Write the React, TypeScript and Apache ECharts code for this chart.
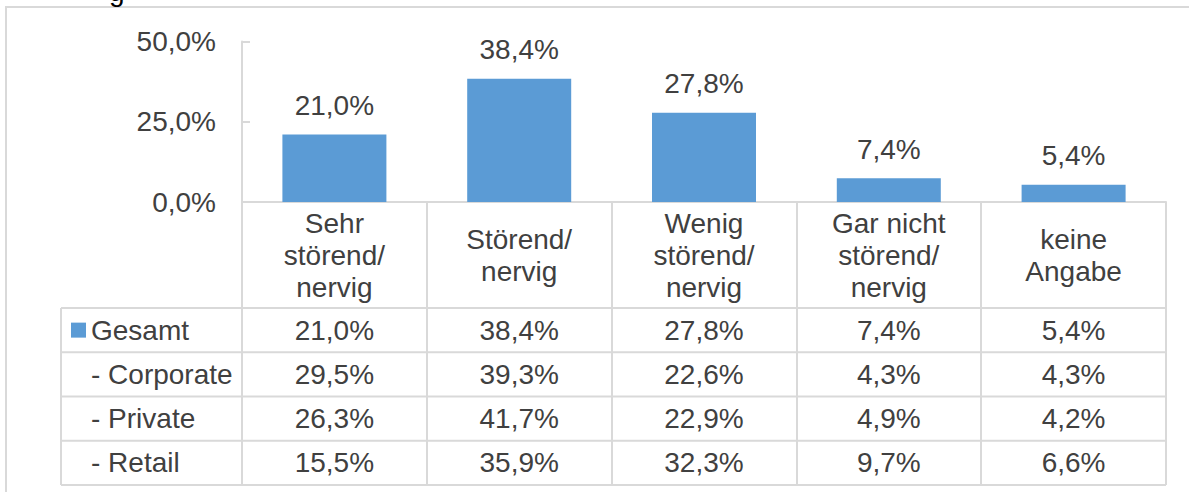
import React, { useEffect, useRef } from "react";
import * as echarts from "echarts";

const categories = ["Sehr\nstörend/\nnervig", "Störend/\nnervig", "Wenig\nstörend/\nnervig", "Gar nicht\nstörend/\nnervig", "keine\nAngabe"];
const gesamt = [21.0, 38.4, 27.8, 7.4, 5.4];
const corporate = [29.5, 39.3, 22.6, 4.3, 4.3];
const privat = [26.3, 41.7, 22.9, 4.9, 4.2];
const retail = [15.5, 35.9, 32.3, 9.7, 6.6];
const rowNames = ["Gesamt", "- Corporate", "- Private", "- Retail"];
const rows = [gesamt, corporate, privat, retail];
const yTicks = { min: 0, max: 50, interval: 25 };

const FONT = "'Liberation Sans', Arial, sans-serif";
const TXT = "#404040";
const LINE = "#d9d9d9";
const BAR = "#5b9bd5";
const FS = 28;

const fmt = (v: number) => v.toFixed(1).replace(".", ",") + "%";

export default function App() {
  const ref = useRef<HTMLDivElement>(null);
  useEffect(() => {
    if (!ref.current) return;
    const chart = echarts.init(ref.current, null, { renderer: "svg" });
    const axisBottom = 202;
    const rowTop = 308;
    const rowH = 44.25;
    const tableLeft = 61;
    const tableRight = 1166;

    const rowAxes = rows.map((r, i) => ({
      type: "category",
      data: r.map(fmt),
      position: "bottom",
      offset: 0,
      axisLine: { show: false },
      axisTick: { show: false },
      axisLabel: {
        interval: 0,
        margin: rowTop - axisBottom + rowH * i + rowH / 2,
        verticalAlign: "middle",
        fontSize: FS,
        fontFamily: FONT,
        color: TXT,
      },
    }));

    const graphics: any[] = [
      {
        type: "polyline",
        shape: { points: [[6, 492], [6, 7], [1189, 7]] },
        style: { stroke: LINE, lineWidth: 2, fill: "none" },
      },
      {
        type: "text",
        x: 109,
        y: 5,
        style: { text: "g", font: `28px ${FONT}`, fill: "#000", verticalAlign: "bottom" },
      },
      {
        type: "line",
        shape: { x1: tableLeft, y1: rowTop, x2: tableLeft, y2: rowTop + rowH * 4 },
        style: { stroke: LINE, lineWidth: 2 },
      },
    ];
    for (let i = 0; i <= rows.length; i++) {
      graphics.push({
        type: "line",
        shape: { x1: tableLeft, y1: rowTop + rowH * i, x2: tableRight, y2: rowTop + rowH * i },
        style: { stroke: LINE, lineWidth: 2 },
      });
    }
    rowNames.forEach((n, i) => {
      if (i === 0) return;
      graphics.push({
        type: "text",
        x: 91,
        y: rowTop + rowH * i + rowH / 2,
        style: { text: n, font: `${FS}px ${FONT}`, fill: TXT, verticalAlign: "middle" },
      });
    });

    chart.setOption({
      animation: false,
      grid: { left: 242, right: 1189 - tableRight, top: 41.5, height: axisBottom - 41.5 },
      legend: {
        data: ["Gesamt"],
        left: 71,
        top: rowTop + rowH / 2 - FS / 2,
        padding: 0,
        icon: "rect",
        itemWidth: 15,
        itemHeight: 15,
        itemGap: 5,
        textStyle: { fontSize: FS, fontFamily: FONT, color: TXT },
      },
      xAxis: [
        {
          type: "category",
          data: categories,
          position: "bottom",
          axisLine: { show: true, lineStyle: { color: LINE, width: 2 } },
          axisTick: {
            show: true,
            interval: 0,
            length: rowTop + rowH * 4 - axisBottom,
            lineStyle: { color: LINE, width: 2 },
          },
          axisLabel: {
            interval: 0,
            margin: 53,
            verticalAlign: "middle",
            lineHeight: 32,
            fontSize: FS,
            fontFamily: FONT,
            color: TXT,
          },
        },
        ...rowAxes,
      ],
      yAxis: {
        type: "value",
        min: yTicks.min,
        max: yTicks.max,
        interval: yTicks.interval,
        axisLine: { show: true, lineStyle: { color: LINE, width: 2 } },
        axisTick: { show: true, inside: true, length: 8, lineStyle: { color: LINE, width: 2 } },
        splitLine: { show: false },
        axisLabel: {
          margin: 26,
          fontSize: FS,
          fontFamily: FONT,
          color: TXT,
          formatter: (v: number) => fmt(v),
        },
      },
      series: [
        {
          name: "Gesamt",
          type: "bar",
          xAxisIndex: 0,
          data: gesamt,
          barWidth: 104,
          itemStyle: { color: BAR },
          label: {
            show: true,
            position: "top",
            distance: 15,
            fontSize: FS,
            fontFamily: FONT,
            color: TXT,
            formatter: (p: any) => fmt(p.value),
          },
        },
      ],
      graphic: graphics,
    });
    return () => chart.dispose();
  }, []);
  return <div ref={ref} style={{ position: "fixed", left: 0, top: 0, width: 1189, height: 492, background: "#fff" }} />;
}
